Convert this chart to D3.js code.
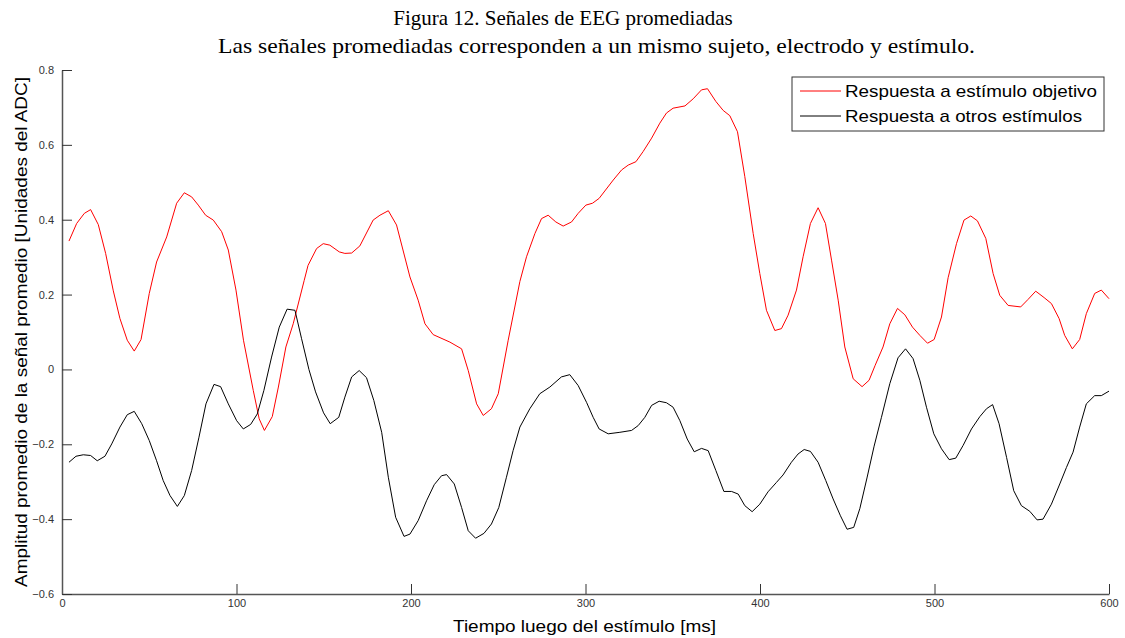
<!DOCTYPE html>
<html>
<head>
<meta charset="utf-8">
<script src="https://cdn.jsdelivr.net/npm/d3@7"></script>
<style>
  body { margin: 0; background: #fff; }
  text { font-family: "Liberation Sans", Arial, sans-serif; }
</style>
</head>
<body>
<script>
// chart values
var titleLines = ["Figura 12. Señales de EEG promediadas",
                  "Las señales promediadas corresponden a un mismo sujeto, electrodo y estímulo."];
var seriesNames = ["Respuesta a estímulo objetivo", "Respuesta a otros estímulos"];
var xTicks = [0, 100, 200, 300, 400, 500, 600];
var yTicks = [-0.6, -0.4, -0.2, 0, 0.2, 0.4, 0.6, 0.8];

var targetTime = [4, 8.4, 12.8, 16.4, 20.8, 25, 29.4, 33.2, 37.4, 41.4, 45.3, 50, 54.2, 60, 65.7, 70.1, 74.3, 78.1, 82.3, 86.7,
  91.5, 95.3, 99.7, 104, 109.6, 113, 116, 120.5, 124, 128.3, 132.5, 138.8, 141, 145.9, 149.7, 153.5, 158.9, 162.1, 166, 170.7,
  178.3, 182.2, 187, 191.7, 199.4, 204.1, 208, 212.7, 222.3, 229, 232.8, 237.6, 241.4, 246.1, 250, 255.7, 262.4, 266.2, 271, 274.8,
  278.6, 283, 287.2, 292, 295.8, 300.2, 304, 307.8, 315.9, 320.7, 324.5, 328.9, 333, 337.9, 342.6, 346.4, 350.2, 357, 361.7, 366.5,
  369.9, 374.7, 378.9, 382.7, 387.1, 391.3, 396.1, 399.9, 403.7, 408.5, 412.3, 416.1, 420.9, 424.7, 428.9, 433.3, 437.5, 441, 444.8, 448.6,
  453.4, 458.5, 462.5, 466, 470.5, 474.4, 478.8, 483, 487.4, 491.6, 496, 499.8, 504, 507.8, 512.6, 516.9, 520.8, 524.6, 529.4, 533.6,
  537.4, 542.2, 549.4, 553.6, 558, 562.8, 567, 571.4, 574.6, 579, 583.2, 587, 591.8, 595.6, 600];
var targetValue = [0.343, 0.39, 0.417, 0.427, 0.387, 0.31, 0.21, 0.136, 0.078, 0.049, 0.08, 0.203, 0.287, 0.354, 0.444, 0.472, 0.461, 0.439, 0.412, 0.399,
  0.368, 0.319, 0.212, 0.078, -0.056, -0.132, -0.163, -0.126, -0.047, 0.06, 0.122, 0.238, 0.278, 0.323, 0.336, 0.332, 0.314, 0.31, 0.311, 0.33,
  0.399, 0.412, 0.424, 0.386, 0.247, 0.185, 0.122, 0.093, 0.073, 0.055, -0.003, -0.092, -0.123, -0.105, -0.065, 0.078, 0.235, 0.301, 0.363, 0.403,
  0.412, 0.394, 0.383, 0.394, 0.417, 0.439, 0.444, 0.457, 0.506, 0.533, 0.546, 0.555, 0.582, 0.618, 0.658, 0.685, 0.698, 0.704, 0.723, 0.747,
  0.75, 0.716, 0.692, 0.678, 0.635, 0.515, 0.363, 0.256, 0.158, 0.104, 0.109, 0.145, 0.212, 0.301, 0.39, 0.432, 0.39, 0.292, 0.185, 0.06,
  -0.025, -0.046, -0.029, 0.011, 0.06, 0.122, 0.163, 0.146, 0.113, 0.091, 0.07, 0.08, 0.14, 0.245, 0.336, 0.399, 0.41, 0.397, 0.35, 0.256,
  0.198, 0.171, 0.167, 0.187, 0.209, 0.192, 0.176, 0.136, 0.091, 0.055, 0.08, 0.149, 0.203, 0.212, 0.189];

var otherTime = [4, 8, 12.2, 16.4, 20.2, 24.6, 28.5, 33.2, 37.4, 41.4, 45.7, 50, 54.2, 58, 61.9, 66.1, 70.1, 74.3, 78.5, 82.5,
  87.1, 90.9, 95.3, 100.1, 103.9, 108.1, 111.9, 115.7, 120.1, 124.5, 129, 133.5, 137.3, 141.5, 145.3, 149.9, 153.7, 158.6, 162.1, 166,
  170.3, 174.5, 178.7, 183.2, 187, 191.2, 196, 199.4, 204.1, 208.9, 213.3, 217.5, 220.4, 224.8, 229, 232.8, 237, 241.8, 246.1, 250.3,
  254.7, 258.5, 262.4, 268.1, 273.8, 279.6, 286.2, 291, 295.8, 300.6, 304.4, 307.8, 313, 319.7, 326.4, 330.2, 334, 337.9, 342.2, 346.4,
  350.2, 354.1, 358.3, 362.3, 366.5, 370.3, 374.7, 379.3, 383.7, 387.5, 391.3, 395.5, 399.9, 404.6, 409.4, 413.2, 418, 421.8, 425.3, 428.9,
  433.3, 437.7, 441.9, 446.1, 449.9, 453.7, 457.2, 461.3, 465.4, 469.6, 474.4, 479.1, 483.4, 487.7, 491.6, 495.4, 499.6, 504, 508.4, 512.2,
  516.4, 521.2, 526, 529.8, 533.3, 537, 541.3, 545.4, 549.8, 554.6, 558.8, 562.2, 567, 571.8, 575.6, 579.4, 583.2, 587, 591.8, 595.6, 600];
var otherValue = [-0.248, -0.232, -0.228, -0.23, -0.244, -0.232, -0.199, -0.154, -0.121, -0.112, -0.145, -0.19, -0.244, -0.297, -0.337, -0.366, -0.337, -0.27, -0.181, -0.092,
  -0.04, -0.046, -0.092, -0.137, -0.159, -0.147, -0.119, -0.056, 0.033, 0.113, 0.161, 0.158, 0.082, 0.0, -0.06, -0.116, -0.145, -0.128, -0.074, -0.02,
  -0.003, -0.022, -0.083, -0.168, -0.288, -0.395, -0.446, -0.44, -0.404, -0.351, -0.308, -0.284, -0.281, -0.306, -0.369, -0.431, -0.451, -0.438, -0.413, -0.369,
  -0.288, -0.217, -0.154, -0.105, -0.065, -0.047, -0.02, -0.014, -0.043, -0.088, -0.128, -0.159, -0.172, -0.168, -0.163, -0.15, -0.128, -0.096, -0.085, -0.089,
  -0.101, -0.137, -0.186, -0.22, -0.211, -0.217, -0.27, -0.326, -0.326, -0.333, -0.364, -0.38, -0.36, -0.327, -0.302, -0.282, -0.248, -0.226, -0.214, -0.219,
  -0.248, -0.297, -0.346, -0.391, -0.427, -0.422, -0.372, -0.29, -0.205, -0.128, -0.038, 0.031, 0.055, 0.029, -0.029, -0.101, -0.172, -0.212, -0.241, -0.237,
  -0.203, -0.159, -0.126, -0.105, -0.094, -0.145, -0.235, -0.324, -0.364, -0.379, -0.402, -0.4, -0.36, -0.306, -0.262, -0.221, -0.154, -0.092, -0.07, -0.07, -0.058];

var W = 1125, H = 638;
var margin = {top: 70, right: 16, bottom: 44, left: 62};
var width = W - margin.left - margin.right,
    height = H - margin.top - margin.bottom;

var svg = d3.select("body").append("svg")
  .attr("width", W)
  .attr("height", H);

// titles
var serif = "'Liberation Serif', 'Times New Roman', serif";
svg.append("text")
  .attr("x", 563).attr("y", 25)
  .attr("text-anchor", "middle")
  .style("font-family", serif)
  .style("font-size", "21px")
  .text(titleLines[0]);
svg.append("text")
  .attr("x", 218).attr("y", 53)
  .attr("textLength", 757).attr("lengthAdjust", "spacingAndGlyphs")
  .style("font-family", serif)
  .style("font-size", "21px")
  .text(titleLines[1]);

var g = svg.append("g")
  .attr("transform", "translate(" + margin.left + "," + margin.top + ")");

var x = d3.scaleLinear().domain([0, 600]).range([0, width]);
var y = d3.scaleLinear().domain([-0.6, 0.8]).range([height, 0]);

// axes, ticks pointing inward like matlab
var xAxis = g.append("g")
  .attr("transform", "translate(0," + height + ")")
  .call(d3.axisBottom(x).tickValues(xTicks).tickSizeInner(-10).tickSizeOuter(0).tickPadding(5).tickFormat(d3.format("d")));
var yAxis = g.append("g")
  .call(d3.axisLeft(y).tickValues(yTicks).tickSizeInner(-10).tickSizeOuter(0).tickPadding(8)
    .tickFormat(function(d) { return d == 0 ? "0" : d3.format(".1f")(d); }));

[xAxis, yAxis].forEach(function(a) {
  a.select(".domain").attr("stroke", "#555").attr("stroke-width", 1.5);
  a.selectAll(".tick line").attr("stroke", "#333");
  a.selectAll(".tick text")
    .style("font-family", "'Liberation Sans', Arial, sans-serif")
    .style("font-size", "11px")
    .attr("fill", "#333");
});

// axis labels
svg.append("text")
  .attr("x", 453).attr("y", 632)
  .attr("textLength", 263).attr("lengthAdjust", "spacingAndGlyphs")
  .style("font-size", "17px")
  .text("Tiempo luego del estímulo [ms]");
svg.append("text")
  .attr("transform", "translate(27,587)rotate(-90)")
  .attr("textLength", 510).attr("lengthAdjust", "spacingAndGlyphs")
  .style("font-size", "17px")
  .text("Amplitud promedio de la señal promedio [Unidades del ADC]");

// lines
var line = d3.line()
  .x(function(d) { return x(d[0]); })
  .y(function(d) { return y(d[1]); });

var series = [
  {name: seriesNames[0], color: "#ff0000", len: 252, pts: d3.zip(targetTime, targetValue)},
  {name: seriesNames[1], color: "#000000", len: 237, pts: d3.zip(otherTime, otherValue)}
];

g.selectAll(".serie")
  .data(series)
  .enter().append("path")
    .attr("class", "serie")
    .attr("fill", "none")
    .attr("stroke", function(d) { return d.color; })
    .attr("stroke-width", 1)
    .attr("d", function(d) { return line(d.pts); });

// legend
var leg = svg.append("g").attr("transform", "translate(792,77)");
leg.append("rect")
  .attr("width", 312).attr("height", 54)
  .attr("fill", "#fff").attr("stroke", "#333").attr("stroke-width", 1);
var items = leg.selectAll(".item")
  .data(series)
  .enter().append("g")
    .attr("class", "item")
    .attr("transform", function(d, i) { return "translate(0," + (14 + i * 25) + ")"; });
items.append("line")
  .attr("x1", 8).attr("x2", 49)
  .attr("stroke", function(d) { return d.color; });
items.append("text")
  .attr("x", 53).attr("y", 6)
  .attr("textLength", function(d) { return d.len; })
  .attr("lengthAdjust", "spacingAndGlyphs")
  .style("font-size", "17px")
  .text(function(d) { return d.name; });
</script>
</body>
</html>
